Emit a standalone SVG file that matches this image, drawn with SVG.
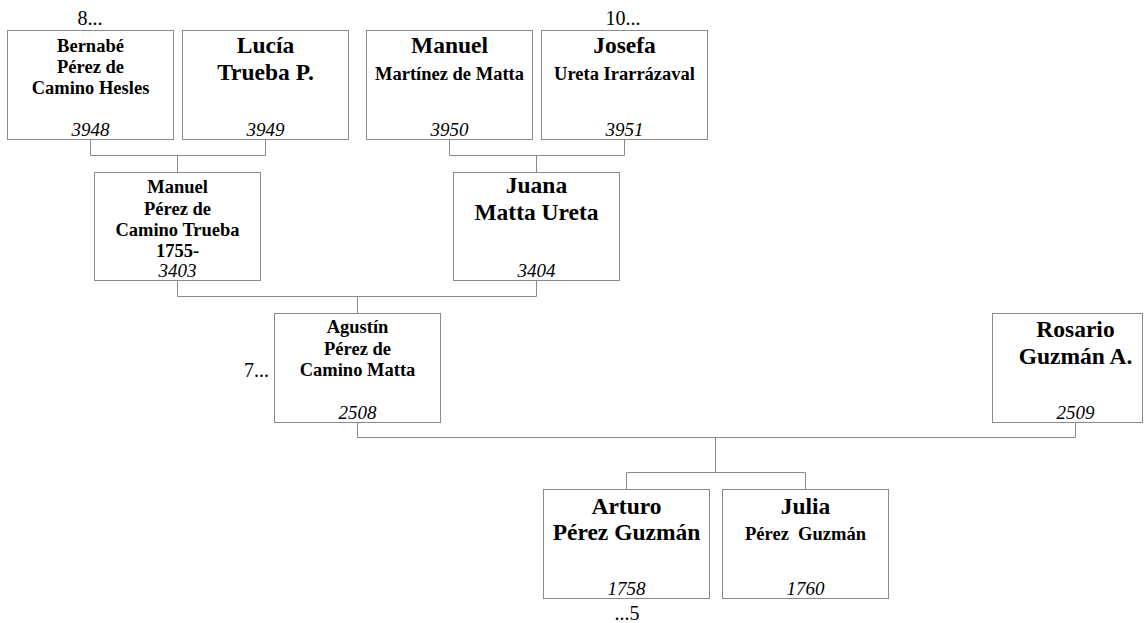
<svg xmlns="http://www.w3.org/2000/svg" width="1147" height="623" viewBox="0 0 1147 623">
<style>
rect.box{fill:#fff;stroke:#8a8a8a;stroke-width:1}
.c{fill:none;stroke:#8a8a8a;stroke-width:1}
text{font-family:'Liberation Serif','Times New Roman',serif;fill:#000;text-anchor:middle}
.b{font-weight:bold;font-size:18.5px}
.L{font-weight:bold;font-size:23.5px}
.n{font-style:italic;font-size:19px}
.t{font-size:20px}
</style>
<rect width="1147" height="623" fill="#fff"/>
<g id="connectors">
<path class="c" d="M90.5,139V155.5H265.5V139M177.5,155.5V172"/>
<path class="c" d="M449.5,139V155.5H624.5V139M536.5,155.5V172"/>
<path class="c" d="M177.5,280V296.5H536.5V280M357.5,296.5V313"/>
<path class="c" d="M357.5,422V437.5H1075.5V422M715.5,437.5V472"/>
<path class="c" d="M626.5,489V472.5H805.5V489"/>
</g>
<g id="n3948">
<rect class="box" x="7.5" y="30.5" width="166" height="109"/>
<text class="b" x="90.5" y="52">Bernabé</text>
<text class="b" x="90.5" y="73">Pérez de</text>
<text class="b" x="90.5" y="94">Camino Hesles</text>
<text class="n" x="90.5" y="136">3948</text>
</g>
<g id="n3949">
<rect class="box" x="182.5" y="30.5" width="166" height="109"/>
<text class="L" x="265.5" y="53">Lucía</text>
<text class="L" x="265.5" y="80">Trueba P.</text>
<text class="n" x="265.5" y="136">3949</text>
</g>
<g id="n3950">
<rect class="box" x="366.5" y="30.5" width="166" height="109"/>
<text class="L" x="449.5" y="53">Manuel</text>
<text class="b" x="449.5" y="80">Martínez de Matta</text>
<text class="n" x="449.5" y="136">3950</text>
</g>
<g id="n3951">
<rect class="box" x="541.5" y="30.5" width="166" height="109"/>
<text class="L" x="624.5" y="53">Josefa</text>
<text class="b" x="624.5" y="80">Ureta Irarrázaval</text>
<text class="n" x="624.5" y="136">3951</text>
</g>
<g id="n3403">
<rect class="box" x="94.5" y="172.5" width="166" height="108"/>
<text class="b" x="177.5" y="193">Manuel</text>
<text class="b" x="177.5" y="215">Pérez de</text>
<text class="b" x="177.5" y="236">Camino Trueba</text>
<text class="b" x="177.5" y="257">1755-</text>
<text class="n" x="177.5" y="277">3403</text>
</g>
<g id="n3404">
<rect class="box" x="453.5" y="172.5" width="166" height="108"/>
<text class="L" x="536.5" y="193">Juana</text>
<text class="L" x="536.5" y="220">Matta Ureta</text>
<text class="n" x="536.5" y="277">3404</text>
</g>
<g id="n2508">
<rect class="box" x="274.5" y="313.5" width="166" height="109"/>
<text class="b" x="357.5" y="333">Agustín</text>
<text class="b" x="357.5" y="355">Pérez de</text>
<text class="b" x="357.5" y="376">Camino Matta</text>
<text class="n" x="357.5" y="419">2508</text>
</g>
<g id="n2509">
<rect class="box" x="992.5" y="313.5" width="150" height="109"/>
<text class="L" x="1075.5" y="337">Rosario</text>
<text class="L" x="1075.5" y="364">Guzmán A.</text>
<text class="n" x="1075.5" y="419">2509</text>
</g>
<g id="n1758">
<rect class="box" x="543.5" y="489.5" width="166" height="109"/>
<text class="L" x="626.5" y="514">Arturo</text>
<text class="L" x="626.5" y="540">Pérez Guzmán</text>
<text class="n" x="626.5" y="595">1758</text>
</g>
<g id="n1760">
<rect class="box" x="722.5" y="489.5" width="166" height="109"/>
<text class="L" x="805.5" y="514">Julia</text>
<text class="b" x="805.5" y="540" style="white-space:pre">Pérez  Guzmán</text>
<text class="n" x="805.5" y="595">1760</text>
</g>
<g id="labels">
<text class="t" x="90" y="25">8...</text>
<text class="t" x="623" y="25">10...</text>
<text class="t" x="269" y="377" style="text-anchor:end">7...</text>
<text class="t" x="627" y="620">...5</text>
</g>
</svg>
